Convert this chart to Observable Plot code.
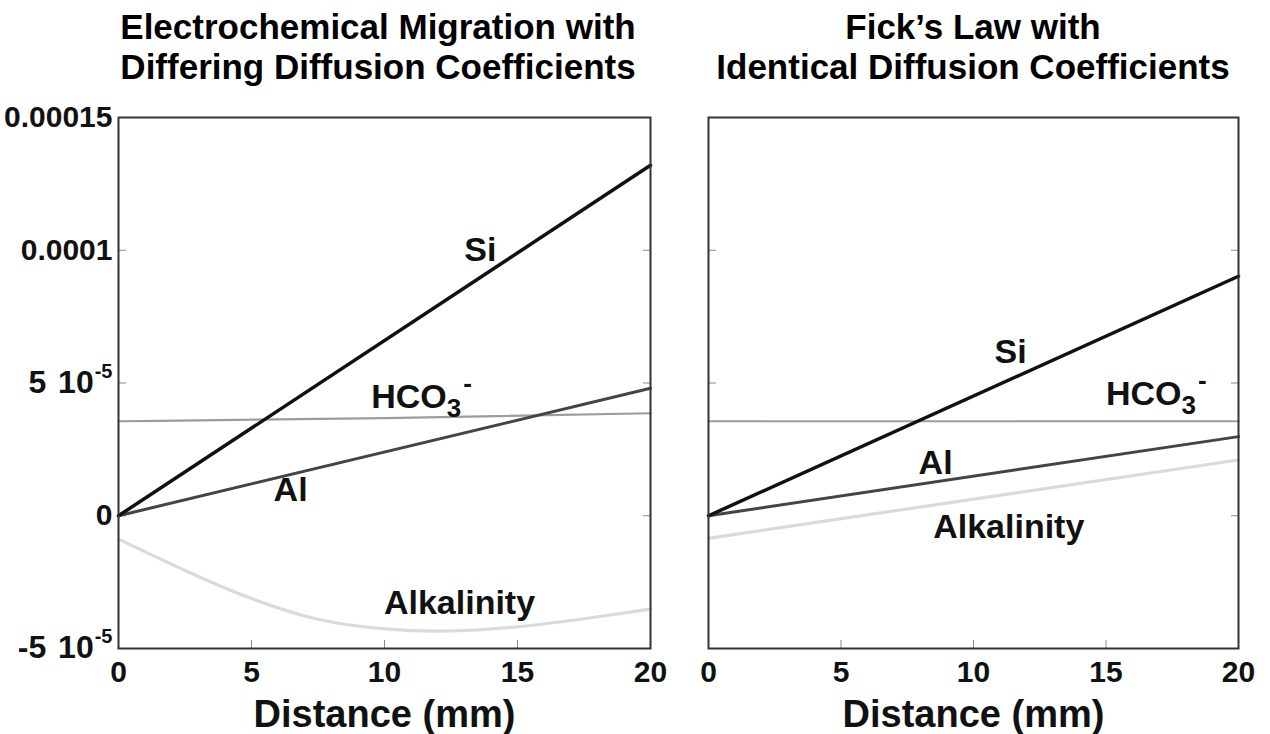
<!DOCTYPE html>
<html><head><meta charset="utf-8">
<script src="https://cdn.jsdelivr.net/npm/d3@7"></script>
<script src="https://cdn.jsdelivr.net/npm/@observablehq/plot@0.6"></script>
<style>
body{margin:0;background:#fff;}
#wrap{position:relative;width:1270px;height:734px;font-family:"Liberation Sans",Arial,sans-serif;font-weight:bold;color:#000;overflow:hidden;}
.title{position:absolute;top:7px;font-size:35px;line-height:40px;text-align:center;white-space:nowrap;transform:translateX(-50%);}
.panel{position:absolute;top:100px;}
</style></head><body>
<div id="wrap">
  <div class="title" id="t1" style="left:378px"></div>
  <div class="title" id="t2" style="left:973px"></div>
  <div class="panel" id="left" style="left:0px"></div>
  <div class="panel" id="right" style="left:670px"></div>
</div>
<script>
// ---------- text ----------
const titleLeft = ["Electrochemical Migration with", "Differing Diffusion Coefficients"];
const titleRight = ["Fick\u2019s Law with", "Identical Diffusion Coefficients"];
const xAxisTitle = "Distance (mm)";

// ---------- ticks ----------
const xTicks = [0, 5, 10, 15, 20];
const xInnerTicks = [5, 10, 15];
const yTicks = [-5e-5, 0, 5e-5, 1e-4, 1.5e-4];
const yTickLabels = ["-5 10^-5", "0", "5 10^-5", "0.0001", "0.00015"];
const yInnerTicks = [0, 5e-5, 1e-4];

// ---------- left panel: electrochemical migration ----------
const emSiX = [0, 20];
const emSiY = [0, 1.32e-4];
const emAlX = [0, 20];
const emAlY = [0, 4.8e-5];
const emHco3X = [0, 10, 20];
const emHco3Y = [3.56e-5, 3.68e-5, 3.86e-5];
const emAlkX = [0, 2.5, 5, 7.5, 10, 12.5, 15, 17.5, 20];
const emAlkY = [-0.88e-5, -2.06e-5, -3.12e-5, -3.9e-5, -4.26e-5, -4.34e-5, -4.18e-5, -3.88e-5, -3.52e-5];
const emLabelText = ["Si", "HCO3-", "Al", "Alkalinity"];
const emLabelX = [13.6, 11.39, 6.47, 12.82];
const emLabelY = [1.0e-4, 4.47e-5, 0.95e-5, -3.3e-5];

// ---------- right panel: Fick's law ----------
const fkSiX = [0, 20];
const fkSiY = [0, 9.02e-5];
const fkAlX = [0, 20];
const fkAlY = [0, 2.98e-5];
const fkHco3X = [0, 20];
const fkHco3Y = [3.56e-5, 3.56e-5];
const fkAlkX = [0, 20];
const fkAlkY = [-0.85e-5, 2.1e-5];
const fkLabelText = ["Si", "HCO3-", "Al", "Alkalinity"];
const fkLabelX = [11.4, 16.9, 8.57, 11.33];
const fkLabelY = [6.15e-5, 4.6e-5, 2.0e-5, -0.44e-5];

// ---------- styles ----------
const seriesStyle = {
  Si: {stroke: "#111", strokeWidth: 3.5},
  Al: {stroke: "#444", strokeWidth: 3},
  HCO3: {stroke: "#9c9c9c", strokeWidth: 2.2},
  Alkalinity: {stroke: "#dadada", strokeWidth: 3.2}
};
const fontFamily = '"Liberation Sans", Arial, sans-serif';

function makePanel(cfg) {
  const marks = [];
  const tickStyle = {stroke: "#8a8a8a", strokeWidth: 1, tickSize: -8, tickFormat: () => ""};
  marks.push(Plot.axisX({ticks: xInnerTicks, ...tickStyle, label: null}));
  marks.push(Plot.axisY({ticks: yInnerTicks, anchor: "left", ...tickStyle, label: null}));
  marks.push(Plot.axisY({ticks: yInnerTicks, anchor: "right", ...tickStyle, label: null}));
  for (const s of cfg.series) {
    const data = s.x.map((x, i) => ({x, y: s.y[i]}));
    marks.push(Plot.line(data, {x: "x", y: "y", curve: s.curve || "linear", strokeLinecap: "round", ...seriesStyle[s.name]}));
  }
  marks.push(Plot.frame({stroke: "#333", strokeWidth: 2}));
  const labels = cfg.labelText.map((t, i) => ({t, x: cfg.labelX[i], y: cfg.labelY[i]}));
  marks.push(Plot.text(labels, {x: "x", y: "y", text: "t", fontSize: 34, fontWeight: "bold", fill: "#111", textAnchor: "middle"}));
  marks.push(Plot.axisX({ticks: xTicks, tickSize: 0, tickPadding: 12, fontSize: 30, fontWeight: "bold", fill: "#111", tickFormat: d => String(d), label: null}));
  if (cfg.yLabels) {
    marks.push(Plot.axisY({ticks: yTicks, tickSize: 0, tickPadding: 6, fontSize: 30, fontWeight: "bold", fill: "#111",
      tickFormat: d => yTickLabels[yTicks.indexOf(d)], label: null}));
  }
  marks.push(Plot.text([xAxisTitle], {text: d => d, frameAnchor: "bottom", lineAnchor: "middle", dy: 66, fontSize: 38, fontWeight: "bold", fill: "#111"}));
  return Plot.plot({
    width: cfg.width, height: 634,
    marginTop: 17, marginBottom: 86, marginLeft: cfg.marginLeft, marginRight: cfg.marginRight,
    x: {domain: [0, 20]},
    y: {domain: [-5e-5, 1.5e-4]},
    style: {fontFamily, fontWeight: "bold", background: "transparent", color: "#111", overflow: "visible"},
    marks
  });
}

const NS = "http://www.w3.org/2000/svg";
function tspan(txt, attrs) {
  const t = document.createElementNS(NS, "tspan");
  t.textContent = txt;
  for (const k in attrs) t.setAttribute(k, attrs[k]);
  return t;
}
function decorate(svg) {
  svg.querySelectorAll("text").forEach(t => {
    if (t.querySelector("tspan")) return;
    const s = t.textContent;
    if (s.includes("^")) {
      const [base, exp] = s.split("^");
      t.textContent = "";
      t.appendChild(tspan(base, {"font-size": "32", "word-spacing": "3"}));
      t.appendChild(tspan(exp, {dy: "-15", dx: "1", "font-size": "20"}));
    } else if (s === "HCO3-") {
      t.textContent = "";
      t.appendChild(tspan("HCO", {}));
      t.appendChild(tspan("3", {dy: "9", "font-size": "26"}));
      t.appendChild(tspan("-", {dy: "-25", dx: "2", "font-size": "26"}));
    }
  });
}

document.getElementById("t1").innerHTML = titleLeft.join("<br>");
document.getElementById("t2").innerHTML = titleRight.join("<br>");

const left = makePanel({
  width: 670, marginLeft: 118, marginRight: 20, yLabels: true,
  series: [
    {name: "Alkalinity", x: emAlkX, y: emAlkY, curve: "natural"},
    {name: "HCO3", x: emHco3X, y: emHco3Y, curve: "natural"},
    {name: "Al", x: emAlX, y: emAlY},
    {name: "Si", x: emSiX, y: emSiY}
  ],
  labelText: emLabelText, labelX: emLabelX, labelY: emLabelY
});
decorate(left);
document.getElementById("left").appendChild(left);

const right = makePanel({
  width: 600, marginLeft: 38, marginRight: 32, yLabels: false,
  series: [
    {name: "Alkalinity", x: fkAlkX, y: fkAlkY},
    {name: "HCO3", x: fkHco3X, y: fkHco3Y},
    {name: "Al", x: fkAlX, y: fkAlY},
    {name: "Si", x: fkSiX, y: fkSiY}
  ],
  labelText: fkLabelText, labelX: fkLabelX, labelY: fkLabelY
});
decorate(right);
document.getElementById("right").appendChild(right);
</script>
</body></html>
